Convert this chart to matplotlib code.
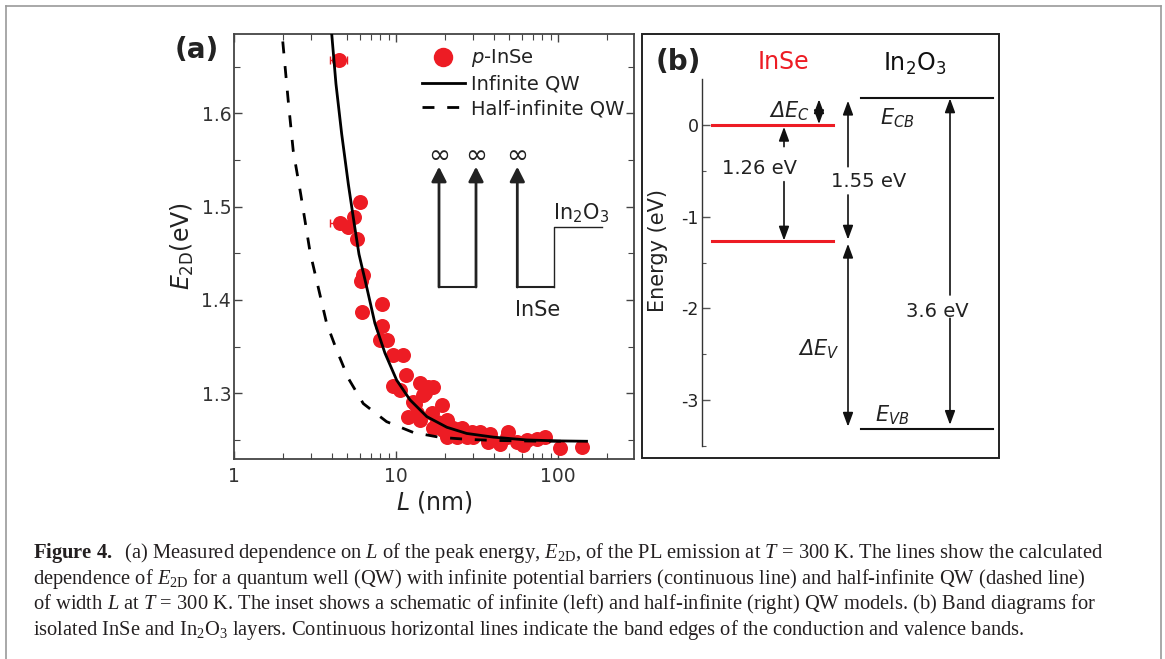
import numpy as np
import matplotlib
matplotlib.use('Agg')
import matplotlib.pyplot as plt
from matplotlib.lines import Line2D
from matplotlib.patches import Rectangle
from matplotlib.ticker import (FixedLocator, FixedFormatter, LogLocator,
                               NullFormatter, MultipleLocator)

plt.rcParams.update({
    'font.family': ['DejaVu Sans'],
    'mathtext.fontset': 'dejavusans',
    'mathtext.rm': 'Liberation Serif',
    'mathtext.it': 'Liberation Serif:italic',
    'mathtext.bf': 'Liberation Serif:bold',
    'axes.unicode_minus': False,
})

# ---------------- data ----------------
# measured PL peak energy vs thickness L (nm)
L_meas = [6.0, 5.53, 5.08, 5.72, 6.3, 6.1, 6.14, 8.16, 8.24, 7.96, 8.75,
          9.63, 11.0, 11.6, 9.63, 10.6, 14.1, 15.8, 16.8, 15.0, 13.1, 14.7,
          19.1, 12.8, 11.9, 13.4, 14.1, 16.6, 17.8, 20.6, 17.0, 19.6, 22.6,
          25.4, 29.3, 20.6, 23.7, 27.3, 18.8, 21.5, 24.9, 27.3, 33.0, 38.0,
          30.0, 37.1, 48.2, 49.3, 43.8, 55.6, 64.1, 73.9, 83.2, 61.1, 103,
          140]
E_meas = [1.505, 1.489, 1.478, 1.465, 1.427, 1.420, 1.387, 1.396, 1.372,
          1.357, 1.357, 1.341, 1.341, 1.320, 1.308, 1.304, 1.311, 1.307,
          1.307, 1.300, 1.289, 1.298, 1.2875, 1.291, 1.275, 1.2786, 1.2714,
          1.2786, 1.2696, 1.2714, 1.2625, 1.2607, 1.2625, 1.2625, 1.2589,
          1.2535, 1.2535, 1.2535, 1.268, 1.264, 1.262, 1.257, 1.259, 1.256,
          1.253, 1.248, 1.253, 1.259, 1.246, 1.248, 1.250, 1.251, 1.253,
          1.245, 1.241, 1.242]
# points drawn with horizontal error bars
L_err_pts = [4.45, 4.51]
E_err_pts = [1.657, 1.483]
L_err = [0.55, 0.6]

# calculated: infinite QW
L_inf = [4.01, 4.26, 4.62, 5.08, 5.53, 5.91, 6.59, 7.41, 8.55, 10.1, 12.2,
         15.5, 20.6, 27.3, 33.0, 40.0, 64.0, 100.0, 150.0]
E_inf = [1.685, 1.6315, 1.578, 1.524, 1.481, 1.449, 1.414, 1.375, 1.343,
         1.314, 1.293, 1.275, 1.2636, 1.257, 1.255, 1.253, 1.250, 1.249,
         1.2486]
# calculated: half-infinite QW
L_half = [2.0, 2.16, 2.32, 2.58, 2.95, 3.16, 3.73, 4.31, 5.08, 6.28, 8.75,
          12.8, 18.7, 27.3, 40.0, 70.0, 110.0]
E_half = [1.677, 1.614, 1.560, 1.5136, 1.451, 1.4286, 1.375, 1.346, 1.316,
          1.289, 1.2696, 1.258, 1.2528, 1.2507, 1.2495, 1.2488, 1.2486]

a_xticks = [1, 10, 100]
a_xticklabels = ['1', '10', '100']
a_yticks = [1.3, 1.4, 1.5, 1.6]
a_yticklabels = ['1.3', '1.4', '1.5', '1.6']
legend_labels = [r'$p$-InSe', 'Infinite QW', 'Half-infinite QW']

# band diagram (eV)
inse_cb, inse_vb = 0.0, -1.26
in2o3_cb, in2o3_vb = 0.29, -3.31
b_yticks = [0, -1, -2, -3]
b_yticklabels = ['0', '-1', '-2', '-3']
b_minor = [-0.5, -1.5, -2.5, -3.5]

RED = '#ED1C24'
DARK = '#231F20'

W, H = 1165, 659
fig = plt.figure(figsize=(W / 100, H / 100), dpi=100)


def fr(x0, y0, x1, y1):
    return [x0 / W, 1 - y1 / H, (x1 - x0) / W, (y1 - y0) / H]


# outer frame (left, top, right)
for xs, ys in [([6, 6], [659, 6]), ([6, 1161], [6, 6]), ([1161, 1161], [6, 659])]:
    fig.add_artist(Line2D([x / W for x in xs], [1 - y / H for y in ys],
                          color='#9a9a9a', lw=1.2))

# ---------------- panel (a) ----------------
axa = fig.add_axes(fr(234, 34, 634, 459))
axa.set_xscale('log')
axa.set_xlim(1, 10 ** (400 / 162))
axa.set_ylim(1.2296, 1.685)

axa.errorbar(L_err_pts, E_err_pts, xerr=L_err, fmt='none', ecolor=RED,
             elinewidth=1, capsize=3, capthick=1)
axa.plot(L_meas + L_err_pts, E_meas + E_err_pts, 'o', color=RED, ms=10.8,
         mew=0, zorder=3)
axa.plot(L_inf, E_inf, '-', color='k', lw=2.0, zorder=4)
axa.plot(L_half, E_half, color='k', lw=2.0, ls=(0, (4.3, 4.6)), zorder=4)

for s in axa.spines.values():
    s.set_color('#444444')
    s.set_linewidth(1.3)
axa.xaxis.set_major_locator(FixedLocator(a_xticks))
axa.xaxis.set_major_formatter(FixedFormatter(a_xticklabels))
axa.xaxis.set_minor_locator(LogLocator(base=10, subs=np.arange(2, 10)))
axa.xaxis.set_minor_formatter(NullFormatter())
axa.yaxis.set_major_locator(FixedLocator(a_yticks))
axa.yaxis.set_major_formatter(FixedFormatter(a_yticklabels))
axa.yaxis.set_minor_locator(MultipleLocator(0.05))
axa.tick_params(which='both', direction='in', top=True, right=True,
                color='#444444', labelcolor='#333333', labelsize=13.5)
axa.tick_params(which='major', length=6, width=1)
axa.tick_params(which='minor', length=4, width=0.8)
axa.tick_params(axis='x', pad=6)
axa.tick_params(axis='y', pad=2)

axa.set_xlabel(r'$L$ (nm)', fontsize=17, color='#222222', labelpad=2)
axa.set_ylabel(r'$E_{\mathrm{2D}}$(eV)', fontsize=17, color='#222222',
               labelpad=4)

h_pts = Line2D([], [], marker='o', ls='none', color=RED, ms=14, mew=0)
h_inf = Line2D([], [], color='k', lw=2)
h_half = Line2D([], [], color='k', lw=2, ls=(0, (4.3, 4.6)))
leg = axa.legend([h_pts, h_inf, h_half], legend_labels, loc='upper left',
                 bbox_to_anchor=(0.4695, 0.9685), frameon=False, fontsize=14,
                 handlelength=2.2, handletextpad=0.35, labelspacing=0.28,
                 borderpad=0, borderaxespad=0)
for t in leg.get_texts():
    t.set_color('#222222')

fig.text(197 / W, 1 - 50 / H, '(a)', fontsize=20, fontweight='bold',
         color='#222222', ha='center', va='center')

# inset schematic (axes-fraction coordinates)
T = axa.transAxes


def af(px, py):
    return ((px - 234) / 400, (459 - py) / 425)


INK = '#222222'
arrow_kw = dict(arrowstyle='-|>,head_length=0.55,head_width=0.28', lw=2.0,
                color=INK, shrinkA=0, shrinkB=0, mutation_scale=16)
for px in [439, 476, 517.3]:
    axa.annotate('', xy=af(px, 166.7), xytext=af(px, 287), xycoords=T,
                 textcoords=T, arrowprops=arrow_kw)
    x, y = af(px, 156.0)
    axa.text(x, y, '∞', transform=T, fontsize=19, ha='center', va='center',
             color=INK)
x0, y0 = af(439, 286.7)
x1, _ = af(476, 286.7)
axa.plot([x0, x1], [y0, y0], transform=T, color=INK, lw=1.5)
pts = [af(517.3, 286.7), af(554, 286.7), af(554, 227.3), af(601.7, 227.3)]
axa.plot([p[0] for p in pts[:2]], [p[1] for p in pts[:2]], transform=T,
         color=INK, lw=1.5)
axa.plot([p[0] for p in pts[1:]], [p[1] for p in pts[1:]], transform=T,
         color=INK, lw=1.0)
x, y = af(553, 213)
axa.text(x, y, r'In$_2$O$_3$', transform=T, fontsize=15, ha='left',
         va='center', color=INK)
x, y = af(538, 310)
axa.text(x, y, 'InSe', transform=T, fontsize=15, ha='center', va='center',
         color=INK)

# ---------------- panel (b) ----------------
axb = fig.add_axes(fr(642, 34, 999, 458))
axb.set_xlim(0, 357)
axb.set_ylim(-(458 - 125) / 91.7, (125 - 34) / 91.7)
for k in ['top', 'right', 'bottom']:
    axb.spines[k].set_visible(False)
axb.add_patch(Rectangle((0, 0), 1, 1, transform=axb.transAxes, fill=False,
                        lw=1.4, ec='#222222', clip_on=False))
axb.spines['left'].set_position(('data', 60))
axb.spines['left'].set_bounds(-3.5, 0.5)
axb.spines['left'].set_linewidth(1.0)
axb.spines['left'].set_color('#333333')
axb.set_xticks([])
axb.yaxis.set_major_locator(FixedLocator(b_yticks))
axb.yaxis.set_major_formatter(FixedFormatter(b_yticklabels))
axb.yaxis.set_minor_locator(FixedLocator(b_minor))
axb.tick_params(axis='y', which='both', direction='in', labelsize=12.5,
                color='#555555', labelcolor='#222222', pad=2.5)
axb.tick_params(axis='y', which='major', length=5.5, width=1)
axb.tick_params(axis='y', which='minor', length=2.7, width=0.8)

# band edges
axb.plot([70, 191], [inse_cb, inse_cb], color=RED, lw=2.2)
axb.plot([70, 191], [inse_vb, inse_vb], color=RED, lw=2.2)
axb.plot([219, 351], [in2o3_cb, in2o3_cb], color='#111111', lw=1.5)
axb.plot([219, 351], [in2o3_vb, in2o3_vb], color='#111111', lw=1.5)

akw = dict(arrowstyle='-|>,head_length=0.6,head_width=0.22', lw=1.2,
           color='#111111', shrinkA=0, shrinkB=0, mutation_scale=14)
dkw = dict(akw, arrowstyle='<|-|>,head_length=0.6,head_width=0.22')


def arr(x, y_from, y_to, kw=akw):
    axb.annotate('', xy=(x, y_to), xytext=(x, y_from), arrowprops=kw)


# delta Ec
arr(177, inse_cb + 0.01, in2o3_cb - 0.01, dkw)
# 1.26 eV gap
arr(142, -0.236, inse_cb - 0.02)
arr(142, -0.618, inse_vb)
# 1.55 eV gap
arr(206, -0.455, in2o3_cb - 0.025)
arr(206, -0.763, inse_vb + 0.01)
# delta Ev
arr(206, inse_vb - 0.035, in2o3_vb + 0.02, dkw)
# 3.6 eV gap
arr(308, -1.854, in2o3_cb)
arr(308, -2.108, in2o3_vb + 0.04)

tkw = dict(fontsize=14, color='#222222', ha='center', va='center')
axb.text(117, -0.473, f'{inse_cb - inse_vb:.2f} eV', **tkw)
axb.text(227, -0.618, f'{in2o3_cb - inse_vb:.2f} eV', **tkw)
axb.text(295, -2.03, f'{in2o3_cb - in2o3_vb:.1f} eV', **tkw)
axb.text(168, 0.15, r'Δ$E_{C}$', fontsize=15, style='italic',
         color='#222222', ha='right', va='center')
axb.text(198, -2.45, r'Δ$E_{V}$', fontsize=15, style='italic',
         color='#222222', ha='right', va='center')
axb.text(255, 0.073, r'$E_{CB}$', fontsize=15, color='#222222', ha='center',
         va='center')
axb.text(250, -3.16, r'$E_{VB}$', fontsize=15, color='#222222', ha='center',
         va='center')
axb.text(36, 0.69, '(b)', fontsize=20, fontweight='bold', color='#222222',
         ha='center', va='center')
axb.text(141, 0.69, 'InSe', fontsize=17, color=RED, ha='center', va='center')
axb.text(273, 0.67, r'In$_2$O$_3$', fontsize=17, color='#111111',
         ha='center', va='center')

fig.text(658 / W, 1 - 250 / H, 'Energy (eV)', fontsize=15, color='#222222',
         rotation=90, ha='center', va='center')

# ---------------- caption ----------------
cap_lines = [
    r'$\mathbf{Figure\ 4.}$  (a) Measured dependence on $L$ of the peak energy, '
    r'$E_{\mathrm{2D}}$, of the PL emission at $T$ = 300 K. The lines show the calculated',
    r'dependence of $E_{\mathrm{2D}}$ for a quantum well (QW) with infinite potential '
    r'barriers (continuous line) and half-infinite QW (dashed line)',
    r'of width $L$ at $T$ = 300 K. The inset shows a schematic of infinite (left) and '
    r'half-infinite (right) QW models. (b) Band diagrams for',
    r'isolated InSe and In$_2$O$_3$ layers. Continuous horizontal lines indicate the '
    r'band edges of the conduction and valence bands.',
]
for i, line in enumerate(cap_lines):
    fig.text(33 / W, 1 - (553 + 25.7 * i) / H, line, fontsize=14.8,
             family='Liberation Serif', math_fontfamily='custom',
             color=DARK, ha='left', va='center')

fig.savefig('out.png', dpi=100)
